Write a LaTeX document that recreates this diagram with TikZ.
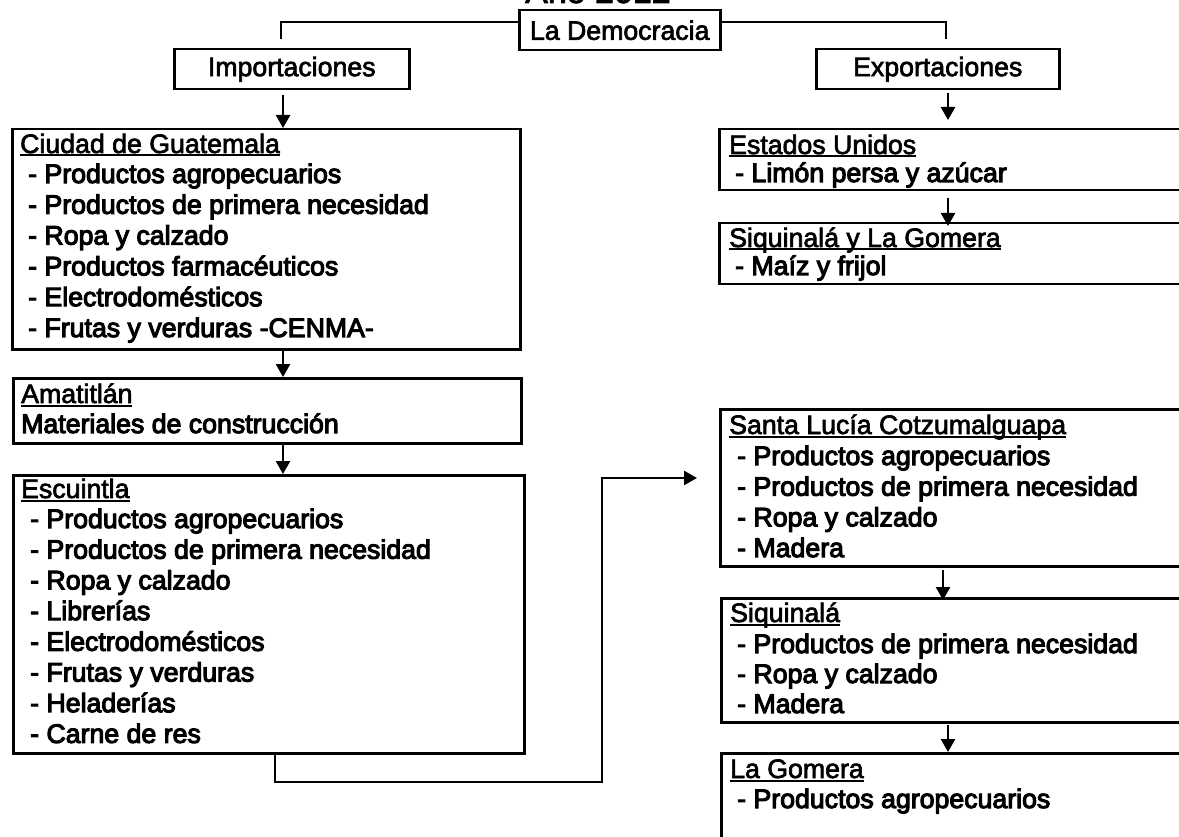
\documentclass[tikz,border=0pt]{standalone}
\usepackage{fontspec}
\setmainfont{Liberation Sans}
\newfontfamily\itmfont{Liberation Sans}[FakeBold=4]
\newfontfamily\hdrfont{Liberation Sans}[FakeBold=2.5]
\usetikzlibrary{arrows.meta}
\newcommand\hdrline[1]{\setbox0\hbox{#1}\rlap{\rule[-3.5pt]{\wd0}{2pt}}\box0}
\begin{document}
\begin{tikzpicture}[x=1pt,y=-1pt,
  box/.style={draw, line width=2.5pt, rectangle, inner sep=0pt, anchor=north west},
  lbl/.style={font=\hdrfont\fontsize{26.7}{30}\selectfont, inner sep=0pt},
  hdr/.style={anchor=base west, inner sep=0pt, font=\hdrfont\fontsize{26.7}{30}\selectfont},
  itm/.style={anchor=base west, inner sep=0pt, font=\itmfont\fontsize{26.7}{30}\selectfont},
  conn/.style={line width=2.5pt},
  arr/.style={line width=2.5pt, -{Triangle[length=13pt,width=14pt]}}]
\useasboundingbox (0,0) rectangle (1179,837);
\clip (0,0) rectangle (1179,837);
% title (cut off at the top)
\node[anchor=base, inner sep=0pt, font=\hdrfont\fontsize{34}{36}\selectfont] (title) at (598,3) {Año 2012};
% top level
\node[box, minimum width=201pt, minimum height=40pt] (dem) at (518,9) {};
\node[lbl] (demt) at (dem.center) {La Democracia};
\node[box, minimum width=235pt, minimum height=40pt] (imp) at (173,48) {};
\node[lbl] (impt) at (imp.center) {Importaciones};
\node[box, minimum width=243pt, minimum height=40pt] (exp) at (815,48) {};
\node[lbl] (expt) at (exp.center) {Exportaciones};
\coordinate (tl) at (281,39);
\coordinate (tr) at (946,39);
\draw[conn] ([yshift=-13pt]dem.north west) -| (tl);
\draw[conn] ([yshift=-13pt]dem.north east) -| (tr);
% left column
\node[box, minimum width=508pt, minimum height=220pt] (ciu) at (11,128) {};
\node[hdr] (ciuh) at (20,153) {\hdrline{Ciudad de Guatemala}};
\foreach \t [count=\i from 0] in {Productos agropecuarios, Productos de primera necesidad, Ropa y calzado, Productos farmacéuticos, Electrodomésticos, Frutas y verduras -CENMA-}
  \node[itm] (ciu-\i) at (28,183+30.8*\i) {- \t};
\node[box, minimum width=508pt, minimum height=65pt] (ama) at (12,377) {};
\node[hdr] (amah) at (21,403) {\hdrline{Amatitlán}};
\node[itm] (amai) at (21,433) {Materiales de construcción};
\node[box, minimum width=511pt, minimum height=278pt] (esc) at (12,474) {};
\node[hdr] (esch) at (21,498) {\hdrline{Escuintla}};
\foreach \t [count=\i from 0] in {Productos agropecuarios, Productos de primera necesidad, Ropa y calzado, Librerías, Electrodomésticos, Frutas y verduras, Heladerías, Carne de res}
  \node[itm] (esc-\i) at (30,528+30.7*\i) {- \t};
% right column
\node[box, minimum width=472pt, minimum height=61pt] (eeu) at (718,128) {};
\node[hdr] (eeuh) at (729,154) {\hdrline{Estados Unidos}};
\node[itm] (eeui) at (735,182) {- Limón persa y azúcar};
\node[box, minimum width=472pt, minimum height=61pt] (syg) at (718,222) {};
\node[hdr] (sygh) at (729,247) {\hdrline{Siquinalá y La Gomera}};
\node[itm] (sygi) at (735,275) {- Maíz y frijol};
\node[box, minimum width=471pt, minimum height=157pt] (slc) at (719,408) {};
\node[hdr] (slch) at (729,434) {\hdrline{Santa Lucía Cotzumalguapa}};
\foreach \t [count=\i from 0] in {Productos agropecuarios, Productos de primera necesidad, Ropa y calzado, Madera}
  \node[itm] (slc-\i) at (737,465+30.7*\i) {- \t};
\node[box, minimum width=470pt, minimum height=124pt] (siq) at (720,597) {};
\node[hdr] (siqh) at (730,622) {\hdrline{Siquinalá}};
\foreach \t [count=\i from 0] in {Productos de primera necesidad, Ropa y calzado, Madera}
  \node[itm] (siq-\i) at (737,653+30*\i) {- \t};
\node[box, minimum width=470pt, minimum height=110pt] (lgo) at (720,752) {};
\node[hdr] (lgoh) at (730,778) {\hdrline{La Gomera}};
\node[itm] (lgoi) at (737,808) {- Productos agropecuarios};
% arrows
\coordinate (a1) at (283,95);
\draw[arr] (a1) -- (a1 |- ciu.north);
\coordinate (a2) at (283,348);
\draw[arr] (a2) -- (a2 |- ama.north);
\coordinate (a3) at (283,442);
\draw[arr] (a3) -- (a3 |- esc.north);
\coordinate (b1) at (948,93);
\coordinate (b1e) at (948,120);
\draw[arr] (b1) -- (b1e);
\coordinate (b2) at (948,198);
\draw[arr] (b2) -- ([yshift=-4pt]b2 |- syg.north);
\coordinate (b3) at (943,570);
\draw[arr] (b3) -- ([yshift=-3pt]b3 |- siq.north);
\coordinate (b4) at (948,725);
\draw[arr] (b4) -- (b4 |- lgo.north);
% Escuintla to Santa Lucia
\coordinate (e1) at ([xshift=263pt]esc.south west);
\coordinate (e2) at (602,782);
\coordinate (e3) at (697,478);
\draw[arr] (e1) |- (e2) |- (e3);
\end{tikzpicture}
\end{document}
